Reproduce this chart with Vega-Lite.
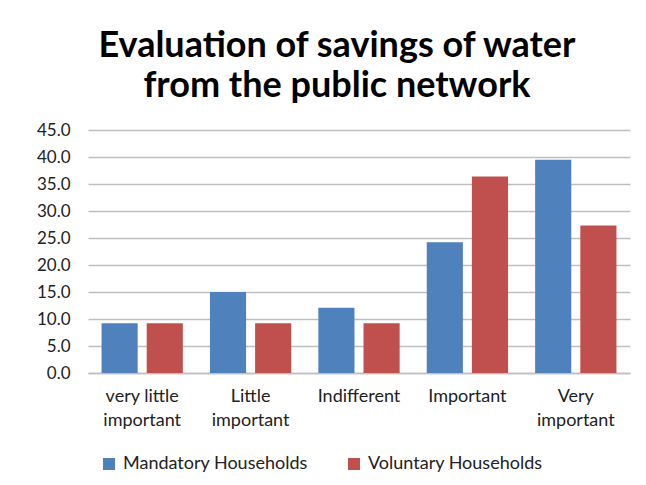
{
  "$schema": "https://vega.github.io/schema/vega-lite/v6.json",
  "width": 542,
  "height": 243,
  "autosize": {"type": "none"},
  "padding": {"left": 88, "top": 130, "right": 16, "bottom": 112},
  "background": "#ffffff",
  "title": {
    "text": ["Evaluation of savings of water", "from the public network"],
    "anchor": "start",
    "frame": "group",
    "align": "center",
    "dx": 249,
    "offset": 16,
    "font": "Lato",
    "fontSize": 36,
    "fontWeight": "bold",
    "color": "#000000",
    "lineHeight": 40
  },
  "data": {
    "values": [
      {"category": "very little important", "group": "Mandatory  Households", "value": 9.2},
      {"category": "very little important", "group": "Voluntary Households", "value": 9.2},
      {"category": "Little important", "group": "Mandatory  Households", "value": 15.0},
      {"category": "Little important", "group": "Voluntary Households", "value": 9.2},
      {"category": "Indifferent", "group": "Mandatory  Households", "value": 12.1},
      {"category": "Indifferent", "group": "Voluntary Households", "value": 9.2},
      {"category": "Important", "group": "Mandatory  Households", "value": 24.2},
      {"category": "Important", "group": "Voluntary Households", "value": 36.4},
      {"category": "Very important", "group": "Mandatory  Households", "value": 39.5},
      {"category": "Very important", "group": "Voluntary Households", "value": 27.3}
    ]
  },
  "mark": {"type": "bar"},
  "encoding": {
    "x": {
      "field": "category",
      "type": "nominal",
      "sort": ["very little important", "Little important", "Indifferent", "Important", "Very important"],
      "scale": {"paddingInner": 0, "paddingOuter": 0},
      "axis": {
        "title": null,
        "labelAngle": 0,
        "ticks": false,
        "domainColor": "#BFBFBF",
        "domainWidth": 1.5,
        "labelFont": "Lato",
        "labelFontSize": 18,
        "labelColor": "#222222",
        "labelPadding": 14,
        "labelLineHeight": 24,
        "labelBaseline": "top",
        "labelOverlap": false,
        "labelExpr": "datum.value == 'very little important' ? ['very little', 'important'] : datum.value == 'Little important' ? ['Little', 'important'] : datum.value == 'Very important' ? ['Very', 'important'] : datum.value"
      }
    },
    "xOffset": {
      "field": "group",
      "type": "nominal",
      "scale": {"paddingInner": 0.2, "paddingOuter": 0.3}
    },
    "y": {
      "field": "value",
      "type": "quantitative",
      "scale": {"domain": [0, 45], "nice": false},
      "axis": {
        "title": null,
        "values": [0, 5, 10, 15, 20, 25, 30, 35, 40, 45],
        "format": ".1f",
        "domain": false,
        "ticks": false,
        "gridColor": "#BFBFBF",
        "gridWidth": 1.5,
        "labelFont": "Lato",
        "labelFontSize": 17,
        "labelColor": "#222222",
        "labelPadding": 18
      }
    },
    "color": {
      "field": "group",
      "type": "nominal",
      "scale": {"domain": ["Mandatory  Households", "Voluntary Households"], "range": ["#4F81BD", "#C0504D"]},
      "legend": {
        "title": null,
        "orient": "none",
        "legendX": 12,
        "legendY": 325,
        "direction": "horizontal",
        "symbolType": "square",
        "symbolSize": 144,
        "symbolStrokeWidth": 0,
        "labelFont": "Lato",
        "labelFontSize": 18,
        "labelColor": "#222222",
        "labelOffset": 5,
        "labelLimit": 400,
        "columnPadding": 32
      }
    }
  },
  "config": {
    "view": {"stroke": null}
  }
}
